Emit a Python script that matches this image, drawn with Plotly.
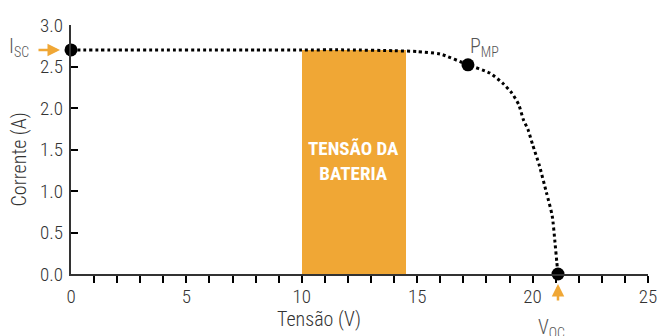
import plotly.graph_objects as go

# I-V curve of a photovoltaic module
voltage = [0, 2, 4, 6, 8, 10, 12, 14, 15, 16, 17.2, 18.15, 18.7, 19.1, 19.4,
           19.6, 19.8, 20.0, 20.3, 20.6, 20.85, 20.97, 21.05, 21.1]
current = [2.7, 2.7, 2.7, 2.7, 2.7, 2.7, 2.7, 2.69, 2.68, 2.65, 2.52, 2.42, 2.30,
           2.18, 2.04, 1.86, 1.74, 1.56, 1.30, 0.98, 0.70, 0.38, 0.14, 0.0]

# key points
isc = (0, 2.7)
pmp = (17.2, 2.52)
voc = (21.1, 0.0)

# battery voltage band
battery_v = [10.0, 14.5]
battery_top = 2.7

x_ticks = [0, 5, 10, 15, 20, 25]
y_ticks = [0.0, 0.5, 1.0, 1.5, 2.0, 2.5, 3.0]

FONT = "Roboto Condensed, DejaVu Sans Condensed, Liberation Sans Narrow, Roboto, sans-serif"
TXT = "#333333"
AX = "#333333"
ORANGE = "#F0A735"

fig = go.Figure()

fig.add_trace(go.Bar(
    x=[(battery_v[0] + battery_v[1]) / 2], y=[battery_top],
    width=[battery_v[1] - battery_v[0]],
    marker=dict(color=ORANGE, line=dict(width=0)),
    hoverinfo="skip", showlegend=False,
))

fig.add_trace(go.Scatter(
    x=voltage, y=current, mode="lines",
    line=dict(color="black", width=3, dash="dot", shape="spline", smoothing=0.6),
    showlegend=False, cliponaxis=False,
))

fig.add_trace(go.Scatter(
    x=[isc[0], pmp[0], voc[0]], y=[isc[1], pmp[1], voc[1]], mode="markers",
    marker=dict(color="black", size=13),
    showlegend=False, cliponaxis=False,
))

# invisible trace carrying the label-only axes
fig.add_trace(go.Scatter(x=[None], y=[None], xaxis="x2", yaxis="y2",
                         showlegend=False, hoverinfo="skip"))

tick_font = dict(size=19, family=FONT, color=TXT, weight=300)

fig.update_layout(
    width=658, height=336,
    margin=dict(l=71, r=10, t=25, b=62),
    paper_bgcolor="white", plot_bgcolor="white",
    bargap=0,
    font=dict(family=FONT, color=TXT),
    # main axes: lines and tick marks
    xaxis=dict(range=[0, 25], tickvals=list(range(1, 26)), showticklabels=False,
               ticks="outside", ticklen=7, tickwidth=2, tickcolor="black",
               showgrid=False, zeroline=False, showline=True, linecolor=AX, linewidth=2,
               automargin=False),
    yaxis=dict(range=[0, 3.0], tickvals=[0.5, 1.0, 1.5, 2.0, 2.5], showticklabels=False,
               ticks="inside", ticklen=7, tickwidth=2, tickcolor="black",
               showgrid=False, zeroline=False, showline=True, linecolor=AX, linewidth=2,
               automargin=False),
    # overlay axes: tick labels only
    xaxis2=dict(range=[0, 25], overlaying="x", anchor="y2", side="bottom",
                tickvals=x_ticks, ticktext=[str(v) for v in x_ticks], ticks="",
                ticklabelstandoff=9, tickfont=tick_font,
                showgrid=False, zeroline=False, showline=False, automargin=False),
    yaxis2=dict(range=[0, 3.0], overlaying="y", anchor="x2", side="left",
                tickvals=y_ticks, ticktext=[f"{v:.1f}" for v in y_ticks], ticks="",
                ticklabelstandoff=7, tickfont=tick_font,
                showgrid=False, zeroline=False, showline=False, automargin=False),
)

title_font = dict(size=20, family=FONT, color=TXT, weight=300)
label_font = dict(size=20, family=FONT, color="#555555", weight=300)

annotations = [
    # axis titles
    dict(text="Tensão (V)", x=10.75, y=0, xref="x", yref="y", yshift=-45,
         showarrow=False, font=title_font),
    dict(text="Corrente (A)", x=0, y=1.38, xref="paper", yref="y", xshift=-52,
         xanchor="center", yanchor="middle", textangle=-90, showarrow=False, font=title_font),
    # band label
    dict(text="<b>TENSÃO DA<br>BATERIA</b>", x=12.25, y=1.36, xref="x", yref="y",
         showarrow=False, font=dict(size=19, family=FONT, color="white")),
    # point labels
    dict(text="I<sub>SC</sub>", x=isc[0], y=isc[1], xref="x", yref="y",
         xshift=-52, yshift=3, showarrow=False, font=label_font),
    dict(text="P<sub>MP</sub>", x=pmp[0], y=pmp[1], xref="x", yref="y",
         xshift=17, yshift=18, showarrow=False, font=label_font),
    dict(text="V<sub>OC</sub>", x=voc[0], y=voc[1], xref="x", yref="y",
         xshift=-6, yshift=-54, showarrow=False, font=label_font),
    # orange arrows
    dict(text="", x=isc[0], y=isc[1], xref="x", yref="y", ax=-34, ay=0,
         showarrow=True, arrowhead=2, arrowsize=1, arrowwidth=2.5, arrowcolor=ORANGE, standoff=11),
    dict(text="", x=voc[0], y=voc[1], xref="x", yref="y", ax=0, ay=28,
         showarrow=True, arrowhead=2, arrowsize=1, arrowwidth=2.5, arrowcolor=ORANGE, standoff=10),
]
fig.update_layout(annotations=annotations)

fig.write_html("out.html")
